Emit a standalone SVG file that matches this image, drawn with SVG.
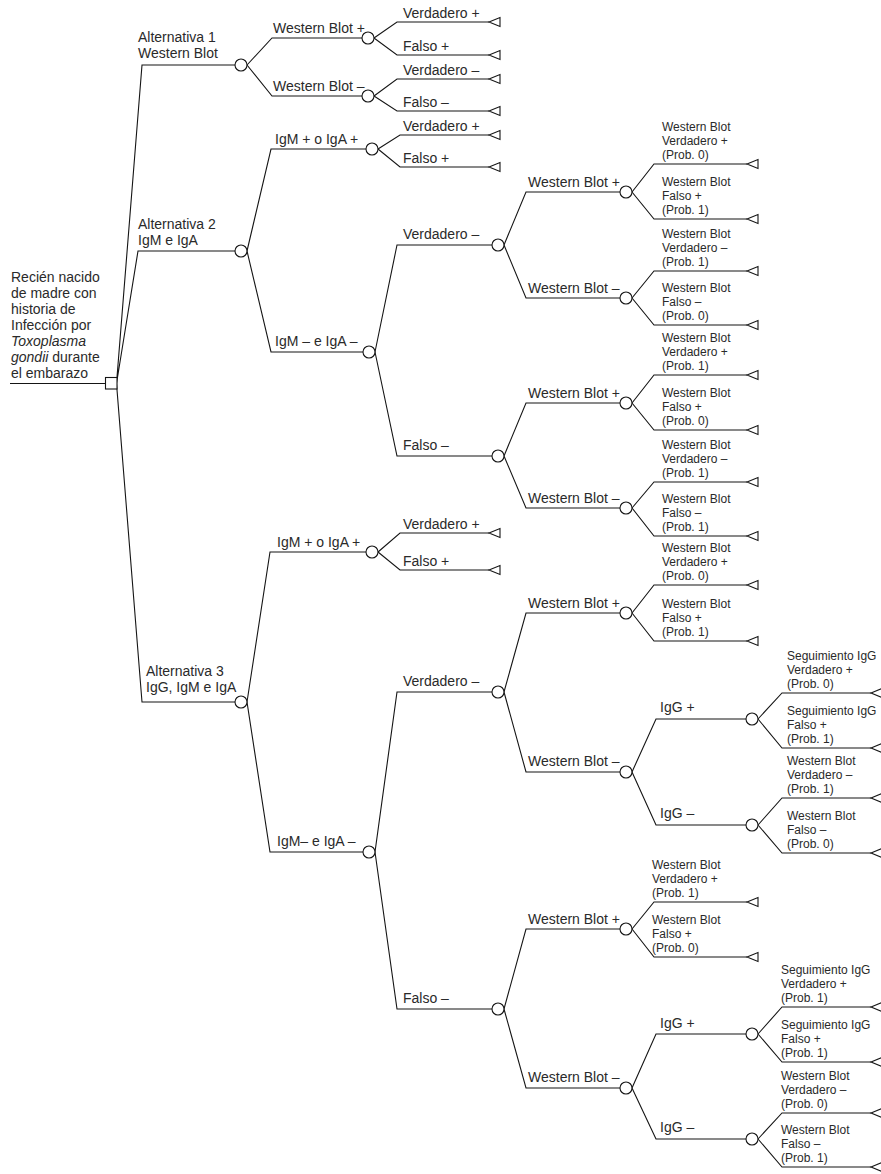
<svg xmlns="http://www.w3.org/2000/svg" width="881" height="1174" viewBox="0 0 881 1174">
<style>
.ln{stroke:#151515;stroke-width:1.1;fill:none}
.ch{fill:#fff;stroke:#151515;stroke-width:1.1}
.tm{fill:#fff;stroke:#151515;stroke-width:1.1}
text{font-family:"Liberation Sans",Arial,sans-serif;fill:#2a2a2a}
.t{font-size:14px}
.s{font-size:12px}
.i{font-style:italic}
</style>
<rect width="881" height="1174" fill="#fff"/>
<g id="connectors">
<path class="ln" d="M10,383.5 H105.5"/>
<path class="ln" d="M116.5,383.5 L142,65 H235 M116.5,383.5 L138,251 H235 M116.5,383.5 L142,702 H235"/>
<path class="ln" d="M247,65 L272,38 H362 M247,65 L272,96 H362"/>
<path class="ln" d="M374,38 L397,22 H489 M374,38 L397,55 H489 M374,96 L397,79 H489 M374,96 L397,111 H489"/>
<path class="ln" d="M247,251 L271,149 H366 M247,251 L271,352 H363"/>
<path class="ln" d="M378,149 L400,135 H489 M378,149 L400,167 H489"/>
<path class="ln" d="M375,352 L397,245 H492 M375,352 L397,456 H492"/>
<path class="ln" d="M504,245 L526,192 H620 M504,245 L526,298 H620 M504,456 L526,403 H620 M504,456 L526,508 H620"/>
<path class="ln" d="M632,192 L654,164 H747 M632,192 L654,219 H747 M632,298 L654,271 H747 M632,298 L654,325 H747 M632,403 L654,375 H747 M632,403 L654,430 H747 M632,508 L654,482 H747 M632,508 L654,536 H747"/>
<path class="ln" d="M247,702 L270,552 H366 M247,702 L270,852 H363"/>
<path class="ln" d="M378,552 L400,533 H489 M378,552 L400,570 H489"/>
<path class="ln" d="M375,852 L397,692 H492 M375,852 L397,1009 H492"/>
<path class="ln" d="M504,692 L526,613 H620 M504,692 L526,772 H620 M504,1009 L526,929 H620 M504,1009 L526,1088 H620"/>
<path class="ln" d="M632,613 L654,585 H747 M632,613 L654,641 H747 M632,929 L654,902 H747 M632,929 L654,957 H747"/>
<path class="ln" d="M632,772 L656,719 H746 M632,772 L656,825 H746 M632,1088 L656,1034 H746 M632,1088 L656,1139 H746"/>
<path class="ln" d="M758,719 L782,693 H871 M758,719 L782,748 H871 M758,825 L782,798 H871 M758,825 L782,853 H871 M758,1034 L782,1007 H871 M758,1034 L782,1062 H871 M758,1139 L782,1113 H871 M758,1139 L782,1167 H871"/>
</g>
<g id="root">
<rect class="ch" x="105.5" y="377.5" width="11.5" height="11.5"/>
<text class="t" x="11" y="282">Recién nacido</text>
<text class="t" x="11" y="298">de madre con</text>
<text class="t" x="11" y="314">historia de</text>
<text class="t" x="11" y="330">Infección por</text>
<text class="t i" x="11" y="346">Toxoplasma</text>
<text class="t" x="11" y="362"><tspan class="i">gondii</tspan> durante</text>
<text class="t" x="11" y="378">el embarazo</text>
</g>
<g id="alt1">
<circle class="ch" cx="241" cy="65" r="6"/>
<text class="t" x="138" y="42">Alternativa 1</text>
<text class="t" x="138" y="58">Western Blot</text>
</g>
<g id="alt2">
<circle class="ch" cx="241" cy="251" r="6"/>
<text class="t" x="138" y="229">Alternativa 2</text>
<text class="t" x="138" y="245">IgM e IgA</text>
</g>
<g id="alt3">
<circle class="ch" cx="241" cy="702" r="6"/>
<text class="t" x="146" y="676">Alternativa 3</text>
<text class="t" x="146" y="692">IgG, IgM e IgA</text>
</g>
<g id="a1-wbpos"><circle class="ch" cx="368" cy="38" r="6"/><text class="t" x="273" y="33">Western Blot +</text></g>
<g id="a1-wbneg"><circle class="ch" cx="368" cy="96" r="6"/><text class="t" x="273" y="91">Western Blot –</text></g>
<g id="a1-wbpos-v"><polygon class="tm" points="489,22 500,17.5 500,26.5"/><text class="t" x="403" y="18">Verdadero +</text></g>
<g id="a1-wbpos-f"><polygon class="tm" points="489,55 500,50.5 500,59.5"/><text class="t" x="403" y="51">Falso +</text></g>
<g id="a1-wbneg-v"><polygon class="tm" points="489,79 500,74.5 500,83.5"/><text class="t" x="403" y="75">Verdadero –</text></g>
<g id="a1-wbneg-f"><polygon class="tm" points="489,111 500,106.5 500,115.5"/><text class="t" x="403" y="107">Falso –</text></g>
<g id="a2-pos"><circle class="ch" cx="372" cy="149" r="6"/><text class="t" x="275" y="144">IgM + o IgA +</text></g>
<g id="a2-pos-v"><polygon class="tm" points="489,135 500,130.5 500,139.5"/><text class="t" x="403" y="131">Verdadero +</text></g>
<g id="a2-pos-f"><polygon class="tm" points="489,167 500,162.5 500,171.5"/><text class="t" x="403" y="163">Falso +</text></g>
<g id="a2-neg"><circle class="ch" cx="369" cy="352" r="6"/><text class="t" x="275" y="346">IgM – e IgA –</text></g>
<g id="a2-neg-v"><circle class="ch" cx="498" cy="245" r="6"/><text class="t" x="403" y="239">Verdadero –</text></g>
<g id="a2-neg-f"><circle class="ch" cx="498" cy="456" r="6"/><text class="t" x="403" y="450">Falso –</text></g>
<g id="a2-v-wbpos"><circle class="ch" cx="626" cy="192" r="6"/><text class="t" x="528" y="187">Western Blot +</text></g>
<g id="a2-v-wbneg"><circle class="ch" cx="626" cy="298" r="6"/><text class="t" x="528" y="293">Western Blot –</text></g>
<g id="a2-f-wbpos"><circle class="ch" cx="626" cy="403" r="6"/><text class="t" x="528" y="398">Western Blot +</text></g>
<g id="a2-f-wbneg"><circle class="ch" cx="626" cy="508" r="6"/><text class="t" x="528" y="503">Western Blot –</text></g>
<g id="l-164"><polygon class="tm" points="747,164 758,159.5 758,168.5"/><text class="s" x="662" y="131">Western Blot</text><text class="s" x="662" y="145">Verdadero +</text><text class="s" x="662" y="159">(Prob. 0)</text></g>
<g id="l-219"><polygon class="tm" points="747,219 758,214.5 758,223.5"/><text class="s" x="662" y="186">Western Blot</text><text class="s" x="662" y="200">Falso +</text><text class="s" x="662" y="214">(Prob. 1)</text></g>
<g id="l-271"><polygon class="tm" points="747,271 758,266.5 758,275.5"/><text class="s" x="662" y="238">Western Blot</text><text class="s" x="662" y="252">Verdadero –</text><text class="s" x="662" y="266">(Prob. 1)</text></g>
<g id="l-325"><polygon class="tm" points="747,325 758,320.5 758,329.5"/><text class="s" x="662" y="292">Western Blot</text><text class="s" x="662" y="306">Falso –</text><text class="s" x="662" y="320">(Prob. 0)</text></g>
<g id="l-375"><polygon class="tm" points="747,375 758,370.5 758,379.5"/><text class="s" x="662" y="342">Western Blot</text><text class="s" x="662" y="356">Verdadero +</text><text class="s" x="662" y="370">(Prob. 1)</text></g>
<g id="l-430"><polygon class="tm" points="747,430 758,425.5 758,434.5"/><text class="s" x="662" y="397">Western Blot</text><text class="s" x="662" y="411">Falso +</text><text class="s" x="662" y="425">(Prob. 0)</text></g>
<g id="l-482"><polygon class="tm" points="747,482 758,477.5 758,486.5"/><text class="s" x="662" y="449">Western Blot</text><text class="s" x="662" y="463">Verdadero –</text><text class="s" x="662" y="477">(Prob. 1)</text></g>
<g id="l-536"><polygon class="tm" points="747,536 758,531.5 758,540.5"/><text class="s" x="662" y="503">Western Blot</text><text class="s" x="662" y="517">Falso –</text><text class="s" x="662" y="531">(Prob. 1)</text></g>
<g id="a3-pos"><circle class="ch" cx="372" cy="552" r="6"/><text class="t" x="277" y="547">IgM + o IgA +</text></g>
<g id="a3-pos-v"><polygon class="tm" points="489,533 500,528.5 500,537.5"/><text class="t" x="403" y="529">Verdadero +</text></g>
<g id="a3-pos-f"><polygon class="tm" points="489,570 500,565.5 500,574.5"/><text class="t" x="403" y="566">Falso +</text></g>
<g id="a3-neg"><circle class="ch" cx="369" cy="852" r="6"/><text class="t" x="277" y="846">IgM– e IgA –</text></g>
<g id="a3-neg-v"><circle class="ch" cx="498" cy="692" r="6"/><text class="t" x="403" y="686">Verdadero –</text></g>
<g id="a3-neg-f"><circle class="ch" cx="498" cy="1009" r="6"/><text class="t" x="403" y="1003">Falso –</text></g>
<g id="a3-v-wbpos"><circle class="ch" cx="626" cy="613" r="6"/><text class="t" x="528" y="608">Western Blot +</text></g>
<g id="a3-v-wbneg"><circle class="ch" cx="626" cy="772" r="6"/><text class="t" x="528" y="766">Western Blot –</text></g>
<g id="a3-f-wbpos"><circle class="ch" cx="626" cy="929" r="6"/><text class="t" x="528" y="924">Western Blot +</text></g>
<g id="a3-f-wbneg"><circle class="ch" cx="626" cy="1088" r="6"/><text class="t" x="528" y="1082">Western Blot –</text></g>
<g id="l-585"><polygon class="tm" points="747,585 758,580.5 758,589.5"/><text class="s" x="662" y="552">Western Blot</text><text class="s" x="662" y="566">Verdadero +</text><text class="s" x="662" y="580">(Prob. 0)</text></g>
<g id="l-641"><polygon class="tm" points="747,641 758,636.5 758,645.5"/><text class="s" x="662" y="608">Western Blot</text><text class="s" x="662" y="622">Falso +</text><text class="s" x="662" y="636">(Prob. 1)</text></g>
<g id="l-902"><polygon class="tm" points="747,902 758,897.5 758,906.5"/><text class="s" x="652" y="869">Western Blot</text><text class="s" x="652" y="883">Verdadero +</text><text class="s" x="652" y="897">(Prob. 1)</text></g>
<g id="l-957"><polygon class="tm" points="747,957 758,952.5 758,961.5"/><text class="s" x="652" y="924">Western Blot</text><text class="s" x="652" y="938">Falso +</text><text class="s" x="652" y="952">(Prob. 0)</text></g>
<g id="a3-v-igg-pos"><circle class="ch" cx="752" cy="719" r="6"/><text class="t" x="660" y="712">IgG +</text></g>
<g id="a3-v-igg-neg"><circle class="ch" cx="752" cy="825" r="6"/><text class="t" x="660" y="818">IgG –</text></g>
<g id="a3-f-igg-pos"><circle class="ch" cx="752" cy="1034" r="6"/><text class="t" x="660" y="1028">IgG +</text></g>
<g id="a3-f-igg-neg"><circle class="ch" cx="752" cy="1139" r="6"/><text class="t" x="660" y="1132">IgG –</text></g>
<g id="l-693"><polygon class="tm" points="871,693 882,688.5 882,697.5"/><text class="s" x="787" y="660">Seguimiento IgG</text><text class="s" x="787" y="674">Verdadero +</text><text class="s" x="787" y="688">(Prob. 0)</text></g>
<g id="l-748"><polygon class="tm" points="871,748 882,743.5 882,752.5"/><text class="s" x="787" y="715">Seguimiento IgG</text><text class="s" x="787" y="729">Falso +</text><text class="s" x="787" y="743">(Prob. 1)</text></g>
<g id="l-798"><polygon class="tm" points="871,798 882,793.5 882,802.5"/><text class="s" x="787" y="765">Western Blot</text><text class="s" x="787" y="779">Verdadero –</text><text class="s" x="787" y="793">(Prob. 1)</text></g>
<g id="l-853"><polygon class="tm" points="871,853 882,848.5 882,857.5"/><text class="s" x="787" y="820">Western Blot</text><text class="s" x="787" y="834">Falso –</text><text class="s" x="787" y="848">(Prob. 0)</text></g>
<g id="l-1007"><polygon class="tm" points="871,1007 882,1002.5 882,1011.5"/><text class="s" x="781" y="974">Seguimiento IgG</text><text class="s" x="781" y="988">Verdadero +</text><text class="s" x="781" y="1002">(Prob. 1)</text></g>
<g id="l-1062"><polygon class="tm" points="871,1062 882,1057.5 882,1066.5"/><text class="s" x="781" y="1029">Seguimiento IgG</text><text class="s" x="781" y="1043">Falso +</text><text class="s" x="781" y="1057">(Prob. 1)</text></g>
<g id="l-1113"><polygon class="tm" points="871,1113 882,1108.5 882,1117.5"/><text class="s" x="781" y="1080">Western Blot</text><text class="s" x="781" y="1094">Verdadero –</text><text class="s" x="781" y="1108">(Prob. 0)</text></g>
<g id="l-1167"><polygon class="tm" points="871,1167 882,1162.5 882,1171.5"/><text class="s" x="781" y="1134">Western Blot</text><text class="s" x="781" y="1148">Falso –</text><text class="s" x="781" y="1162">(Prob. 1)</text></g>
</svg>
